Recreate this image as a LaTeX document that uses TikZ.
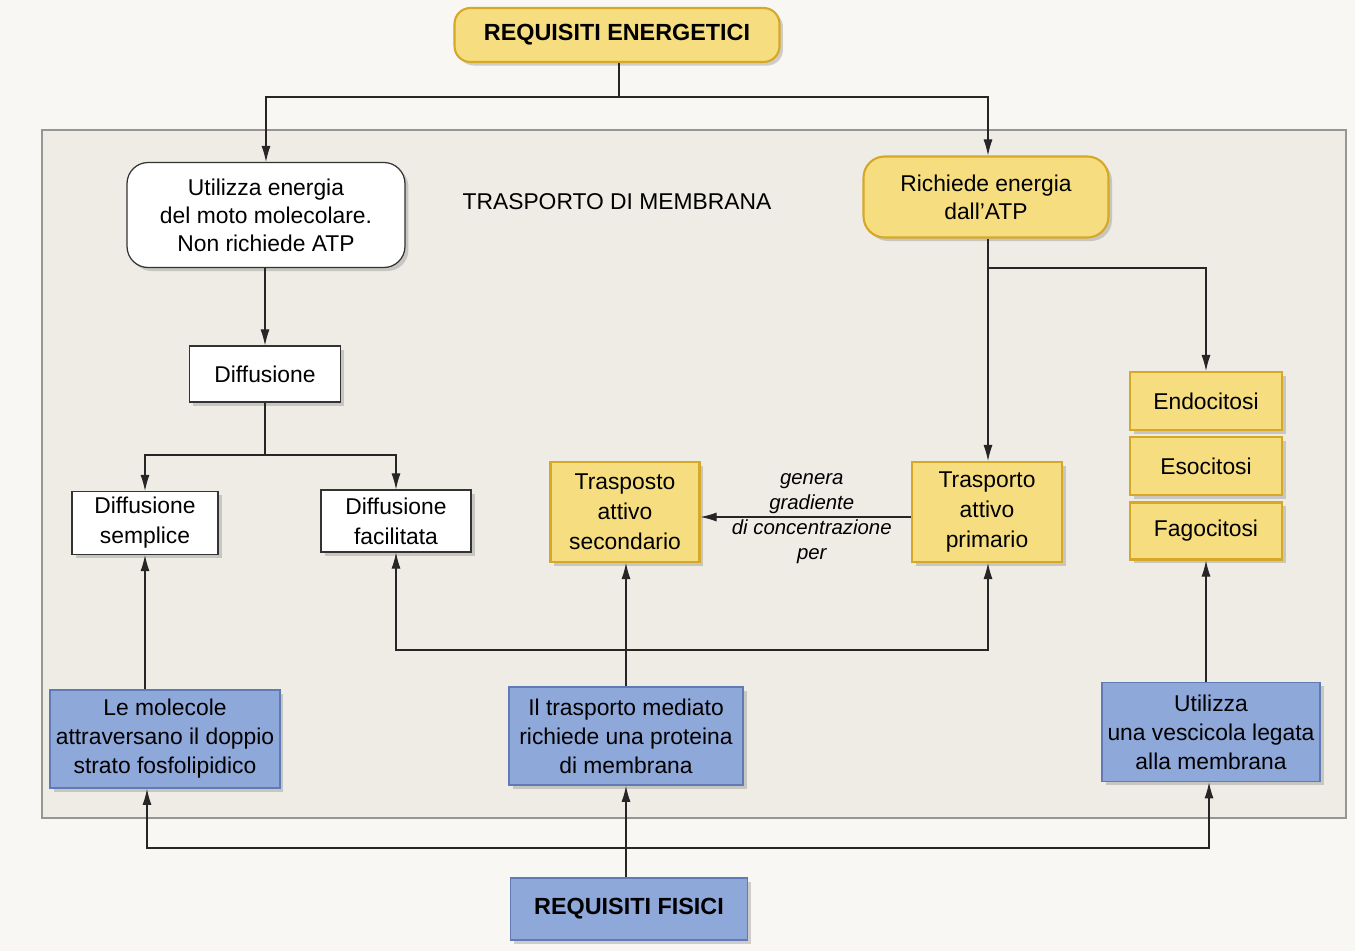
\documentclass[tikz,border=0pt]{standalone}
\usepackage{fontspec}
\setmainfont{Liberation Sans}
\usetikzlibrary{arrows.meta,shadows,calc}
\definecolor{pagebg}{RGB}{248,247,243}
\definecolor{panelbg}{RGB}{238,236,229}
\definecolor{panelline}{RGB}{150,150,150}
\definecolor{yfill}{RGB}{246,222,128}
\definecolor{yline}{RGB}{214,168,40}
\definecolor{bfill}{RGB}{143,168,218}
\definecolor{bline}{RGB}{96,122,182}
\tikzset{
  box/.style={draw, align=center, inner sep=2pt, font=\fontsize{13}{16}\selectfont,
    drop shadow={opacity=0.35, shadow xshift=2pt, shadow yshift=-2pt}},
  whitebox/.style={box, fill=white, draw=black!80, line width=0.7pt},
  yellowbox/.style={box, fill=yfill, draw=yline, line width=1.2pt},
  bluebox/.style={box, fill=bfill, draw=bline, line width=1pt},
  conn/.style={draw=black!85, line width=0.6pt},
  arr/.style={conn, -{Latex[length=3.2mm,width=1.8mm]}},
}
\begin{document}
\begin{tikzpicture}[x=0.02cm,y=-0.02cm]
\useasboundingbox (0,0) rectangle (1355,951);
\fill[pagebg] (0,0) rectangle (1355,951);
\draw[fill=panelbg, draw=panelline, line width=0.6pt] (42,130) rectangle (1346,818);

% nodes
\node[yellowbox, rounded corners=9pt, minimum width=6.5cm, minimum height=1.08cm,
  font=\fontsize{13.3}{16}\selectfont\bfseries] (req) at (617,35) {REQUISITI ENERGETICI};
\node[whitebox, rounded corners=12pt, minimum width=5.56cm, minimum height=2.1cm] (utl) at (266,215)
  {Utilizza energia\\del moto molecolare.\\Non richiede ATP};
\node[font=\fontsize{13}{16}\selectfont] (title) at (617,202) {TRASPORTO DI MEMBRANA};
\node[yellowbox, rounded corners=12pt, minimum width=4.9cm, minimum height=1.62cm] (rich) at (986,197)
  {Richiede energia\\dall’ATP};
\node[whitebox, minimum width=3.02cm, minimum height=1.12cm] (diff) at (265,374) {Diffusione};
\node[whitebox, minimum width=2.92cm, minimum height=1.26cm, font=\fontsize{13}{17}\selectfont] (semp) at (145,523) {Diffusione\\semplice};
\node[whitebox, minimum width=3.0cm, minimum height=1.24cm, font=\fontsize{13}{17}\selectfont] (fac) at (396,521) {Diffusione\\facilitata};
\node[yellowbox, minimum width=2.98cm, minimum height=2.0cm, font=\fontsize{13}{17}\selectfont] (sec) at (625,512)
  {Trasposto\\attivo\\secondario};
\node[yellowbox, minimum width=3.0cm, minimum height=2.0cm, font=\fontsize{13}{17}\selectfont] (prim) at (987,512)
  {Trasporto\\attivo\\primario};
\node[yellowbox, minimum width=3.04cm, minimum height=1.16cm] (endo) at (1206,401) {Endocitosi};
\node[yellowbox, minimum width=3.04cm, minimum height=1.16cm] (eso) at (1206,466) {Esocitosi};
\node[yellowbox, minimum width=3.04cm, minimum height=1.14cm] (fago) at (1206,531) {Fagocitosi};
\node[bluebox, minimum width=4.6cm, minimum height=1.96cm, font=\fontsize{13}{16.5}\selectfont] (mol) at (165,739)
  {Le molecole\\attraversano il doppio\\strato fosfolipidico};
\node[bluebox, minimum width=4.68cm, minimum height=1.96cm, font=\fontsize{13}{16.5}\selectfont] (med) at (626,736)
  {Il trasporto mediato\\richiede una proteina\\di membrana};
\node[bluebox, minimum width=4.36cm, minimum height=1.98cm, font=\fontsize{13}{16.5}\selectfont] (ves) at (1211,732)
  {Utilizza\\una vescicola legata\\alla membrana};
\node[bluebox, minimum width=4.74cm, minimum height=1.24cm,
  font=\fontsize{13.3}{16}\selectfont\bfseries] (fis) at (629,909) {REQUISITI FISICI};

% junction coordinates
\coordinate (j1) at (619,97);
\coordinate (j2) at (265,455);
\coordinate (j3) at (626,650);
\coordinate (j4) at (626,848);
\coordinate (j5) at (988,268);
\coordinate (ga) at (800,517);

% connectors top
\draw[conn] (req.south -| j1) -- (j1);
\draw[arr] (j1) -| (utl.north);
\draw[arr] (j1) -| (rich.north -| j5);
\draw[arr] (utl.south -| diff) -- (diff.north);
\draw[conn] (diff.south) -- (j2);
\draw[arr] (j2) -| (semp.north);
\draw[arr] (j2) -| (fac.north);
\draw[arr] (rich.south -| j5) -- (prim.north -| j5);
\draw[arr] (j5) -| (endo.north);
\draw[arr] (prim.west |- ga) -- (sec.east |- ga)
  node[midway, xshift=6*0.02cm, yshift=-1pt, align=center, font=\fontsize{11.6}{14.2}\selectfont\itshape]
  {genera\\gradiente\\di concentrazione\\per};

% connectors bottom
\draw[arr] (mol.north -| semp) -- (semp.south);
\draw[arr] (med.north) -- (sec.south -| med);
\draw[conn] (fac.south |- j3) -- (prim.south |- j3);
\draw[arr] (j3) -| (fac.south);
\draw[arr] (j3) -| (prim.south -| j5);
\draw[arr] (ves.north -| fago) -- (fago.south);
\draw[arr] (fis.north -| j4) -- (med.south -| j4);
\draw[arr] (j4) -| ($(mol.south)+(-18,0)$);
\draw[arr] (j4) -| ($(ves.south)+(-2,0)$);
\end{tikzpicture}
\end{document}
